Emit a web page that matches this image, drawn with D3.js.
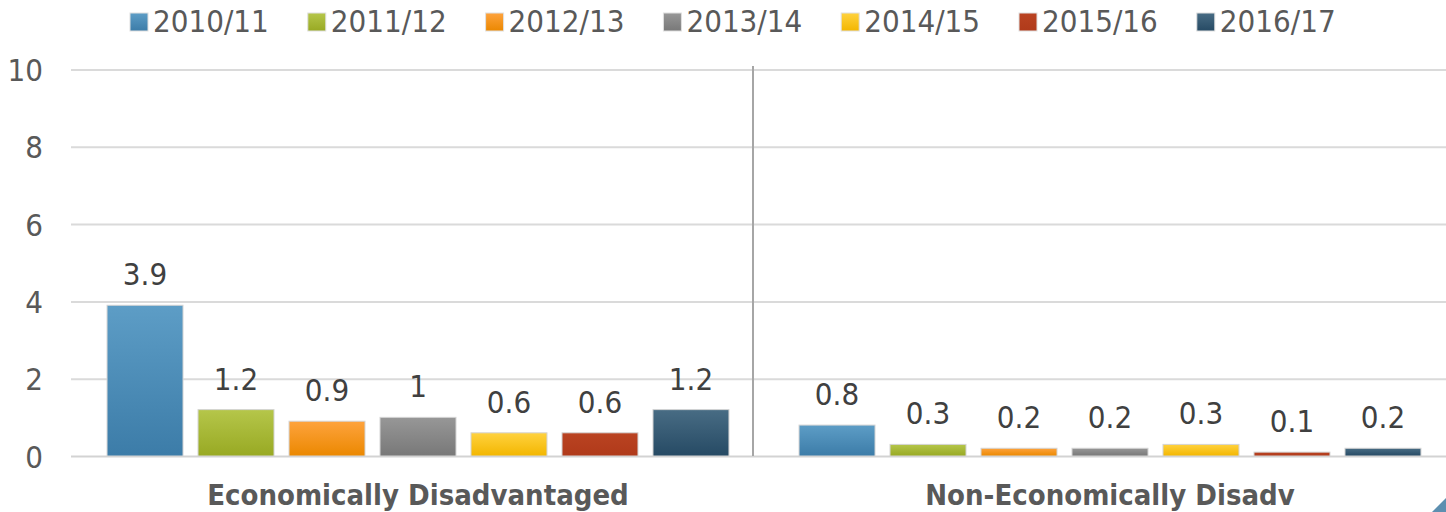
<!DOCTYPE html>
<html>
<head>
<meta charset="utf-8">
<script src="https://cdn.jsdelivr.net/npm/d3@7"></script>
<style>
  html, body { margin: 0; padding: 0; background: #ffffff; }
  svg { display: block; }
  text { font-family: 'DejaVu Sans Condensed', 'DejaVu Sans', sans-serif; font-stretch: condensed; }
</style>
</head>
<body>
<svg id="chart" width="1446" height="512"></svg>
<script>
// ---- data ----
const categories = ["Economically Disadvantaged", "Non-Economically Disadv"];
const seriesNames = ["2010/11", "2011/12", "2012/13", "2013/14", "2014/15", "2015/16", "2016/17"];
const valuesEconDisadv = [3.9, 1.2, 0.9, 1, 0.6, 0.6, 1.2];
const valuesNonEconDisadv = [0.8, 0.3, 0.2, 0.2, 0.3, 0.1, 0.2];
const yTicks = [0, 2, 4, 6, 8, 10];
const colorsTop = ["#5d9dc6", "#b5c64a", "#fea33d", "#979797", "#ffd23f", "#ba4322", "#486c84"];
const colorsBottom = ["#3c7ca8", "#98a923", "#eb8800", "#787878", "#f3b600", "#b03a1a", "#264a64"];

const seriesValues = [valuesEconDisadv, valuesNonEconDisadv];

// ---- layout ----
const svg = d3.select("#chart");
const W = 1446, H = 512;
const gridLeft = 71, gridRight = 1446;

const y = d3.scaleLinear().domain([0, 10]).range([456, 69.5]);
const x0 = d3.scaleBand().domain(categories).range([61, 1445]).paddingInner(0).paddingOuter(0);
const x1 = d3.scaleBand().domain(seriesNames).range([0, x0.bandwidth()])
  .paddingInner(0.165).paddingOuter(0.385).align(0.657);

// gradients
const defs = svg.append("defs");
seriesNames.forEach((s, i) => {
  const g = defs.append("linearGradient").attr("id", "grad" + i)
    .attr("x1", 0).attr("y1", 0).attr("x2", 0).attr("y2", 1);
  g.append("stop").attr("offset", "0%").attr("stop-color", colorsTop[i]);
  g.append("stop").attr("offset", "100%").attr("stop-color", colorsBottom[i]);
});

// gridlines
const yAxis = d3.axisLeft(y).tickValues(yTicks).tickSize(-(gridRight - gridLeft)).tickPadding(28);
const ga = svg.append("g").attr("transform", `translate(${gridLeft},0)`).call(yAxis);
ga.select(".domain").remove();
ga.selectAll(".tick line").attr("stroke", "#dadada").attr("stroke-width", 2);
ga.selectAll(".tick text")
  .attr("fill", "#595959")
  .style("font-size", "31px")
  .attr("dy", "0.36em");
ga.selectAll(".tick").filter(d => d === 0).select("line").attr("stroke", "#d3d3d3");

// category separator
svg.append("line")
  .attr("x1", x0(categories[1])).attr("x2", x0(categories[1]))
  .attr("y1", 66).attr("y2", y(0))
  .attr("stroke", "#a6a6a6").attr("stroke-width", 2);

// bars
const groups = svg.selectAll("g.cat").data(categories).join("g")
  .attr("class", "cat")
  .attr("transform", d => `translate(${x0(d)},0)`);

groups.each(function(cat, ci) {
  const g = d3.select(this);
  const data = seriesNames.map((s, i) => ({ s, i, v: seriesValues[ci][i] }));
  g.selectAll("rect").data(data).join("rect")
    .attr("x", d => x1(d.s))
    .attr("y", d => y(d.v))
    .attr("width", x1.bandwidth())
    .attr("height", d => y(0) - y(d.v))
    .attr("fill", d => `url(#grad${d.i})`)
    .attr("stroke", "#d4d4d4")
    .attr("stroke-width", 1);
  g.selectAll("text.val").data(data).join("text")
    .attr("class", "val")
    .attr("x", d => x1(d.s) + x1.bandwidth() / 2)
    .attr("y", d => y(d.v) - 20)
    .attr("text-anchor", "middle")
    .attr("fill", "#404040")
    .style("font-size", "31px")
    .text(d => d3.format("~g")(d.v));
  // category label centered on bars
  const first = x1(seriesNames[0]);
  const last = x1(seriesNames[seriesNames.length - 1]) + x1.bandwidth();
  g.append("text")
    .attr("x", (first + last) / 2)
    .attr("y", 505)
    .attr("text-anchor", "middle")
    .attr("fill", "#595959")
    .style("font-size", "29px")
    .style("font-weight", "bold")
    .text(cat);
});

// legend
const legendStartX = 130, legendStep = 177.8;
const lg = svg.selectAll("g.leg").data(seriesNames).join("g")
  .attr("class", "leg")
  .attr("transform", (d, i) => `translate(${legendStartX + i * legendStep},0)`);
lg.append("rect")
  .attr("x", 0).attr("y", 13).attr("width", 18).attr("height", 18)
  .attr("fill", (d, i) => `url(#grad${i})`)
  .attr("stroke", "#e0e0e0").attr("stroke-width", 1);
lg.append("text")
  .attr("x", 23).attr("y", 32)
  .attr("fill", "#595959")
  .style("font-size", "31px")
  .text(d => d);

// decorative corner
svg.append("polygon")
  .attr("points", `${W - 14},${H} ${W},${H - 14} ${W},${H}`)
  .attr("fill", "#5d8fb0");
</script>
</body>
</html>
